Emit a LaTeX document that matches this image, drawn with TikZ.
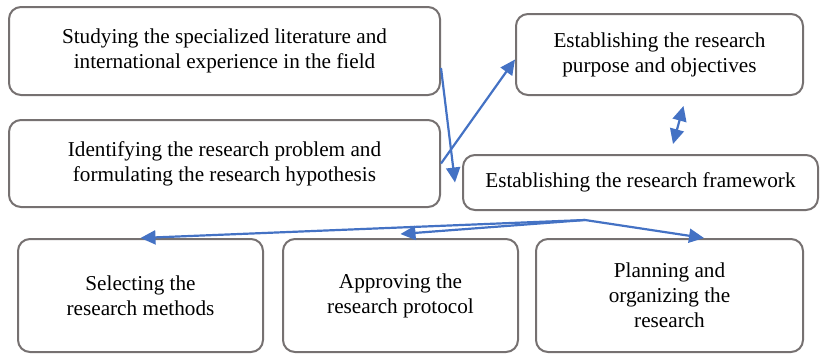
\documentclass[tikz,border=0pt]{standalone}
\usepackage{fontspec}
\setmainfont{Liberation Serif}
\usetikzlibrary{arrows.meta}
\definecolor{boxgray}{RGB}{118,113,113}
\definecolor{arrowblue}{RGB}{68,114,196}

\begin{document}
\begin{tikzpicture}[x=1pt,y=-1pt,
  stepbox/.style={draw=boxgray,line width=2pt,rounded corners=12pt,inner sep=0pt,
    align=center,font=\fontsize{21.2}{25}\selectfont},
  flow/.style={draw=arrowblue,line width=2.2pt,-{Triangle[length=15pt,width=14pt]}},
  flowboth/.style={draw=arrowblue,line width=2.2pt,{Triangle[length=15pt,width=14pt]}-{Triangle[length=15pt,width=14pt]}}]
\useasboundingbox (0,0) rectangle (821,354);

\node[stepbox,minimum width=431pt,minimum height=88pt] (stud) at (224.5,51)
  {Studying the specialized literature and\\international experience in the field};
\node[stepbox,minimum width=431pt,minimum height=87pt] (ident) at (224.5,163.5)
  {Identifying the research problem and\\formulating the research hypothesis};
\node[stepbox,minimum width=287pt,minimum height=81pt] (purpose) at (659.5,54.5)
  {Establishing the research\\purpose and objectives};
\node[stepbox,minimum width=355pt,minimum height=55pt] (frame) at (640.5,182.5)
  {Establishing the research framework};

\node[stepbox,minimum width=245pt,minimum height=113pt] (sel) at (140.5,295.5)
  {Selecting the\\research methods};
\node[stepbox,minimum width=235pt,minimum height=113pt] (app) at (400.5,295.5)
  {Approving the\\research protocol};
\node[stepbox,minimum width=267pt,minimum height=113pt] (plan) at (669.5,295.5)
  {Planning and\\organizing the\\research};

% connectors
\coordinate (fork) at ([xshift=-55.5pt,yshift=-9pt]frame.south);
\draw[flow] ([yshift=-17pt]stud.east) -- ([xshift=-7pt]frame.west);
\draw[flow] (ident.east) -- ([yshift=-5pt]purpose.west);
\draw[flowboth] ([xshift=24pt,yshift=-10pt]purpose.south) -- ([xshift=32.5pt,yshift=10pt]frame.north);

\draw[flow] (fork) -- (sel.north);
\draw[flow] (fork) -- ([yshift=4pt]app.north);
\draw[flow] (fork) -- ([xshift=34.5pt]plan.north);
\end{tikzpicture}
\end{document}
